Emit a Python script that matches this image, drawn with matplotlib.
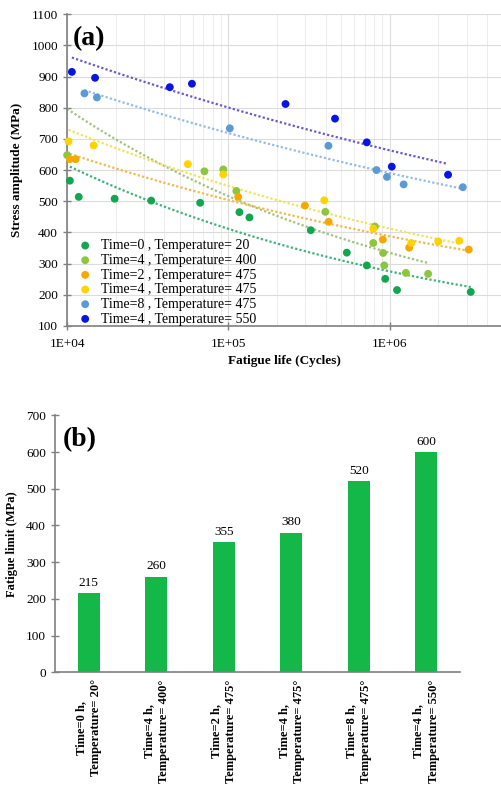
import numpy as np
import matplotlib.pyplot as plt
from matplotlib.ticker import FixedLocator, NullFormatter

plt.rcParams['font.family'] = ['Liberation Serif', 'DejaVu Serif']

# (a) S-N data, cycles and stress amplitude (MPa)
n_t0_20 = [1.04e4, 1.18e4, 1.97e4, 3.32e4, 6.68e4, 1.17e5, 1.35e5, 3.24e5, 5.42e5, 7.21e5, 9.38e5, 1.11e6, 3.18e6]
s_t0_20 = [566, 514, 508, 502, 495, 465, 448, 407, 335, 294, 251, 215, 209]
n_t4_400 = [1.0e4, 7.10e4, 9.29e4, 1.12e5, 3.99e5, 8.09e5, 7.91e5, 9.10e5, 9.25e5, 1.26e6, 1.73e6]
s_t4_400 = [648, 596, 602, 533, 466, 419, 366, 334, 294, 270, 267]
n_t2_475 = [1.04e4, 1.13e4, 1.15e5, 2.98e5, 4.18e5, 9.06e5, 1.32e6, 3.09e6]
s_t2_475 = [635, 635, 514, 486, 434, 377, 351, 345]
n_t4_475 = [1.02e4, 1.46e4, 5.60e4, 9.29e4, 3.93e5, 7.91e5, 1.36e6, 2.0e6, 2.70e6]
s_t4_475 = [692, 679, 619, 586, 503, 412, 366, 371, 373]
n_t8_475 = [1.28e4, 1.53e4, 1.02e5, 4.17e5, 8.28e5, 9.62e5, 1.22e6, 2.84e6]
s_t8_475 = [846, 833, 734, 678, 600, 578, 554, 545]
n_t4_550 = [1.07e4, 1.49e4, 4.33e4, 5.94e4, 2.26e5, 4.58e5, 7.21e5, 1.03e6, 2.30e6]
s_t4_550 = [915, 896, 866, 877, 812, 765, 689, 611, 585]

series = [
    ("Time=0 , Temperature= 20", n_t0_20, s_t0_20, '#13a651', '#3fb27a'),
    ("Time=4 , Temperature= 400", n_t4_400, s_t4_400, '#8cc63f', '#a3c27e'),
    ("Time=2 , Temperature= 475", n_t2_475, s_t2_475, '#f7a800', '#f5b84a'),
    ("Time=4 , Temperature= 475", n_t4_475, s_t4_475, '#ffd200', '#f2e25a'),
    ("Time=8 , Temperature= 475", n_t8_475, s_t8_475, '#5b9bd5', '#95bde3'),
    ("Time=4 , Temperature= 550", n_t4_550, s_t4_550, '#0a14e0', '#6a5acd'),
]

# (b) fatigue limit
conditions = ["Time=0 h,\nTemperature= 20°", "Time=4 h,\nTemperature= 400°",
              "Time=2 h,\nTemperature= 475°", "Time=4 h,\nTemperature= 475°",
              "Time=8 h,\nTemperature= 475°", "Time=4 h,\nTemperature= 550°"]
fatigue_limit = [215, 260, 355, 380, 520, 600]

fig = plt.figure(figsize=(5.01, 7.91), dpi=100)

# ---- panel (a)
ax = fig.add_axes([0.134, 0.588, 0.866, 0.394])
for label, n, s, c, lc in series:
    n = np.array(n)
    s = np.array(s)
    # power trendline like excel
    b, a = np.polyfit(np.log10(n), np.log10(s), 1)
    xx = np.logspace(np.log10(n.min()), np.log10(n.max()), 100)
    ax.plot(xx, 10**a * xx**b, color=lc, lw=1.6, ls=(0, (1, 1)), zorder=2)
    ax.scatter(n, s, s=32, color=c, edgecolors='none', label=label, zorder=3, clip_on=False)

ax.set_xscale('log')
ax.set_xlim(1e4, 10**6.69)
ax.set_ylim(100, 1100)
ax.set_yticks(np.arange(100, 1101, 100))
ax.xaxis.set_major_locator(FixedLocator([1e4, 1e5, 1e6]))
ax.set_xticklabels(["1E+04", "1E+05", "1E+06"])
ax.xaxis.set_minor_locator(FixedLocator([k * 10**e for e in (4, 5, 6) for k in range(2, 10)]))
ax.xaxis.set_minor_formatter(NullFormatter())
ax.grid(True, which='major', color='#dcdcdc', lw=0.8)
ax.grid(True, which='minor', axis='x', color='#ececec', lw=0.7)
ax.set_axisbelow(True)
for sp in ['top', 'right']:
    ax.spines[sp].set_visible(False)
for sp in ['left', 'bottom']:
    ax.spines[sp].set_color('#808080')
    ax.spines[sp].set_linewidth(1.2)
ax.tick_params(axis='both', which='major', direction='inout', length=6, width=1, color='#808080', labelsize=9.5)
ax.tick_params(axis='x', which='major', pad=6)
ax.tick_params(axis='x', which='minor', length=0)
ax.set_xlabel("Fatigue life (Cycles)", fontsize=9.5, fontweight='bold', labelpad=3)
ax.set_ylabel("Stress amplitude (MPa)", fontsize=9.5, fontweight='bold', labelpad=6)
ax.text(0.012, 0.962, "(a)", transform=ax.transAxes, fontsize=20, fontweight='bold', va='top', ha='left')
ax.legend(loc='lower left', bbox_to_anchor=(0.0, -0.03), frameon=False, fontsize=10,
          scatterpoints=1, handlelength=1.2, handletextpad=0.55, labelspacing=0.12, borderaxespad=0.3)

# ---- panel (b)
bx = fig.add_axes([0.110, 0.150, 0.808, 0.325])
x = np.arange(len(fatigue_limit))
bars = bx.bar(x, fatigue_limit, width=0.33, color='#14b848')
for xi, v in zip(x, fatigue_limit):
    bx.text(xi, v + 12, str(v), ha='center', va='bottom', fontsize=9.5)
bx.set_xlim(-0.5, 5.5)
bx.set_ylim(0, 700)
bx.set_yticks(np.arange(0, 701, 100))
bx.set_xticks(x)
bx.set_xticklabels(conditions, rotation=90, fontsize=9, fontweight='bold', multialignment='center',
                   linespacing=1.35)
for sp in ['top', 'right']:
    bx.spines[sp].set_visible(False)
for sp in ['left', 'bottom']:
    bx.spines[sp].set_color('#808080')
    bx.spines[sp].set_linewidth(1.2)
bx.tick_params(axis='y', direction='inout', length=6, width=1, color='#808080', labelsize=9.5)
bx.tick_params(axis='x', length=0, pad=5)
bx.set_ylabel("Fatigue limit (MPa)", fontsize=9, fontweight='bold', labelpad=6)
bx.text(0.018, 0.955, "(b)", transform=bx.transAxes, fontsize=20, fontweight='bold', va='top', ha='left')

fig.savefig("out.png", dpi=100)
